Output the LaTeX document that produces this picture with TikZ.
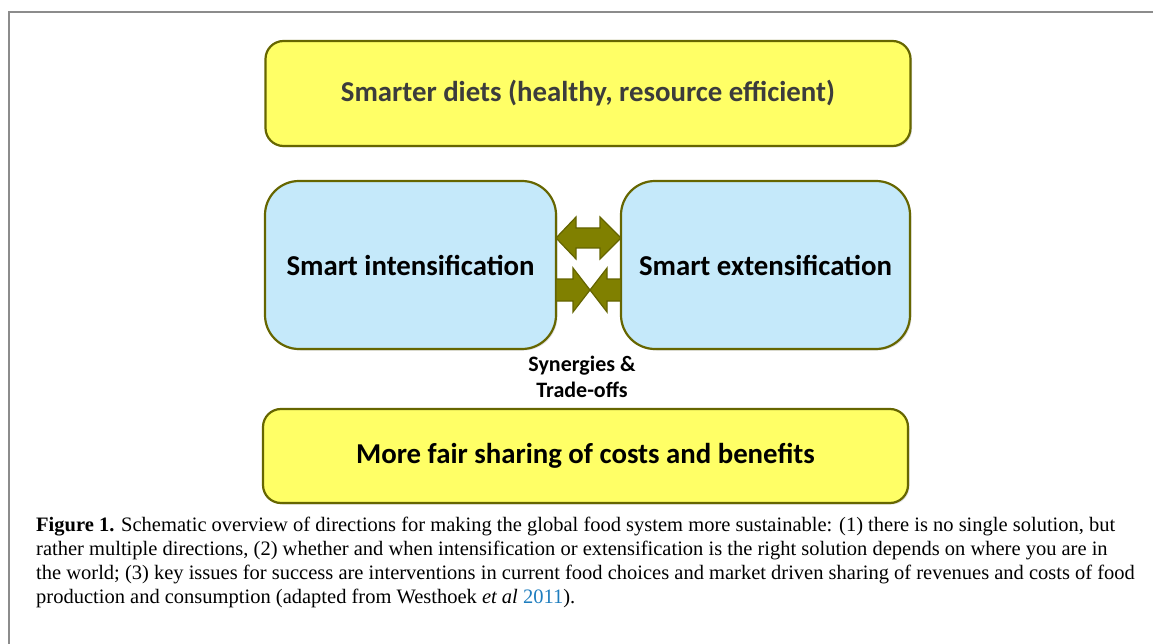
\documentclass[tikz,border=0pt]{standalone}
\usepackage{fontspec}
\setmainfont{Liberation Serif}
\newfontfamily\boxfont{Carlito}
\usetikzlibrary{shadows}
\definecolor{boxyellow}{RGB}{255,255,102}
\definecolor{boxblue}{RGB}{197,233,250}
\definecolor{boxline}{RGB}{102,102,0}
\definecolor{arrowfill}{RGB}{128,128,0}
\definecolor{arrowline}{RGB}{100,100,0}
\definecolor{framegray}{RGB}{140,140,140}
\definecolor{toptext}{RGB}{60,60,60}
\definecolor{citeblue}{RGB}{30,125,190}
\tikzset{
  panel/.style={draw=boxline, line width=2.2pt, rounded corners=18pt, inner sep=0pt,
    font=\boxfont\bfseries\fontsize{28.8}{34}\selectfont,
    drop shadow={shadow xshift=1.5pt, shadow yshift=-1.5pt, opacity=0.25}},
  yellowpanel/.style={panel, fill=boxyellow},
  bluepanel/.style={panel, fill=boxblue, rounded corners=34pt},
  arrowshape/.style={fill=arrowfill, draw=arrowline, line width=1.2pt, line join=miter},
}
\begin{document}
\begin{tikzpicture}[x=1pt,y=-1pt]
\useasboundingbox (0,0) rectangle (1153,644);
\draw[framegray, line width=1.6pt] (9,644) -- (9,12) -- (1153,12);

\node[yellowpanel, minimum width=645pt, minimum height=105pt, text=toptext] (diet) at (588,93.5) {Smarter diets (healthy, resource efficient)};
\node[bluepanel, minimum width=291pt, minimum height=168pt] (intens) at (410.5,265) {Smart intensification};
\node[bluepanel, minimum width=289pt, minimum height=168pt] (extens) at (765.5,265) {Smart extensification};
\node[yellowpanel, minimum width=645pt, minimum height=94pt] (fair) at (585.5,456) {More fair sharing of costs and benefits};

\node[font=\boxfont\bfseries\fontsize{22}{26}\selectfont, align=center] (syn) at (582,377) {Synergies \&\\Trade-offs};

% double arrow between the blue panels
\draw[arrowshape] (556,238) -- (576,217) -- (576,228) -- (600,228) -- (600,217) -- (621,238)
  -- (600,259) -- (600,248) -- (576,248) -- (576,259) -- cycle;
% converging arrows
\draw[arrowshape] (556,279) -- (573,279) -- (573,268) -- (590,290) -- (573,312) -- (573,301) -- (556,301) -- cycle;
\draw[arrowshape] (621,279) -- (607,279) -- (607,268) -- (590,290) -- (607,312) -- (607,301) -- (621,301) -- cycle;

\node[anchor=north west, align=left, inner sep=0pt, font=\fontsize{20.5}{23.8}\selectfont] (cap) at (36,517)
{\textbf{Figure 1.} Schematic overview of directions for making the global food system more sustainable: (1) there is no single solution, but\\
rather multiple directions, (2) whether and when intensification or extensification is the right solution depends on where you are in\\
the world; (3) key issues for success are interventions in current food choices and market driven sharing of revenues and costs of food\\
production and consumption (adapted from Westhoek \textit{et al} \textcolor{citeblue}{2011}).};
\end{tikzpicture}
\end{document}
